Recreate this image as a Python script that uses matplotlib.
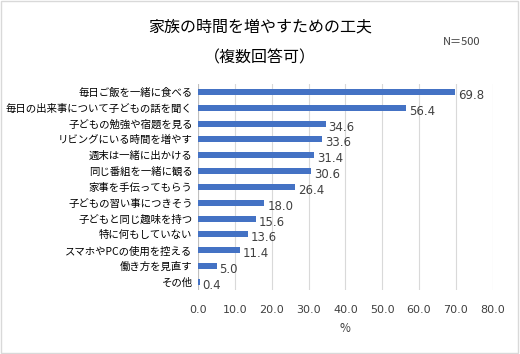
import matplotlib
matplotlib.use("Agg")
import matplotlib.pyplot as plt
from matplotlib.patches import Rectangle
import numpy as np

plt.rcParams['font.family'] = ['Noto Sans CJK JP', 'DejaVu Sans']

LABELS = [
    "毎日ご飯を一緒に食べる",
    "毎日の出来事について子どもの話を聞く",
    "子どもの勉強や宿題を見る",
    "リビングにいる時間を増やす",
    "週末は一緒に出かける",
    "同じ番組を一緒に観る",
    "家事を手伝ってもらう",
    "子どもの習い事につきそう",
    "子どもと同じ趣味を持つ",
    "特に何もしていない",
    "スマホやPCの使用を控える",
    "働き方を見直す",
    "その他",
]
VALUES = [69.8, 56.4, 34.6, 33.6, 31.4, 30.6, 26.4, 18.0, 15.6, 13.6, 11.4, 5.0, 0.4]
XTICKS = [0, 10, 20, 30, 40, 50, 60, 70, 80]

BAR = "#4472C4"
TXT = "#404040"

fig = plt.figure(figsize=(5.2, 3.54), dpi=100)
fig.patches.append(Rectangle((0.002, 0.003), 0.995, 0.994, transform=fig.transFigure,
                             fill=False, edgecolor="#d9d9d9", linewidth=1.0))
ax = fig.add_axes([0.381, 0.181, 0.5665, 0.582])

y = np.arange(len(LABELS))
ax.barh(y, VALUES, height=0.38, color=BAR, zorder=3)
for yi, v in zip(y, VALUES):
    ax.text(v + 0.8, yi + 0.22, f"{v:.1f}", va="center", ha="left",
            fontsize=8.5, color=TXT, family="DejaVu Sans")

ax.set_ylim(len(LABELS) - 0.5, -0.5)
ax.set_xlim(0, 80)
ax.set_yticks(y)
ax.set_yticklabels(LABELS, fontsize=7.5, color="#000000")
ax.set_xticks(XTICKS)
ax.set_xticklabels([f"{t:.1f}" for t in XTICKS], fontsize=8, color=TXT,
                   family="DejaVu Sans")
ax.tick_params(length=0, pad=4)
ax.tick_params(axis="x", pad=11)
ax.xaxis.grid(True, color="#d9d9d9", linewidth=0.8, zorder=0)
ax.set_axisbelow(True)
for s in ax.spines.values():
    s.set_visible(False)
ax.axvline(0, color="#bfbfbf", linewidth=0.8, zorder=2)
ax.set_xlabel("%", fontsize=8.5, color=TXT, labelpad=5)

fig.text(0.5, 0.924, "家族の時間を増やすための工夫", ha="center", va="center",
         fontsize=11.5, color="#000000")
fig.text(0.5, 0.836, "（複数回答可）", ha="center", va="center",
         fontsize=11.5, color="#000000")
fig.text(0.888, 0.88, "N＝500", ha="center", va="center", fontsize=8, color=TXT)

fig.savefig("out.png", dpi=100)
